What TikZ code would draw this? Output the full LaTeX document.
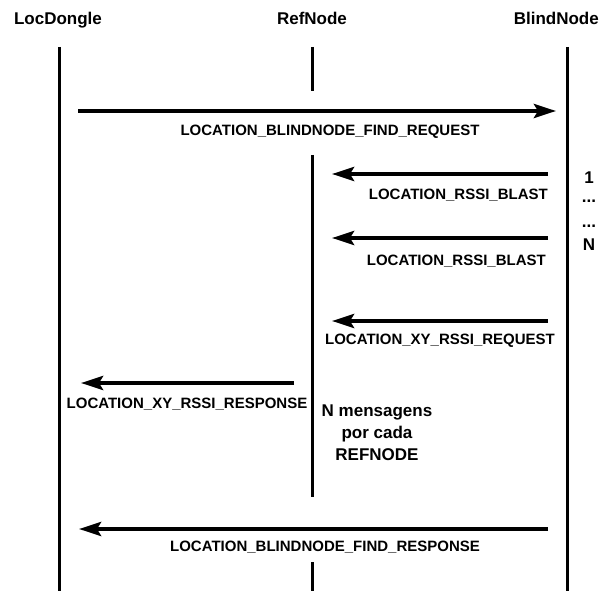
\documentclass[tikz,border=0pt]{standalone}
\usepackage{fontspec}
\setmainfont{Liberation Sans}
\usetikzlibrary{arrows.meta}
\begin{document}
\begin{tikzpicture}[x=1pt,y=-1pt,
  header/.style={font=\fontsize{17}{20}\selectfont\bfseries, inner sep=0pt, anchor=base},
  msglabel/.style={font=\fontsize{15}{17}\selectfont\bfseries, inner sep=0pt},
  lifeline/.style={line width=3pt},
  msg/.style={line width=4pt, -{Stealth[length=22pt,width=14pt,inset=4pt]}},
  note/.style={font=\fontsize{17}{22}\selectfont\bfseries, inner sep=0pt, align=center}]
\useasboundingbox[fill=white] (0,0) rectangle (600,591);
% headers
\node[header] (hLD) at (58,25) {LocDongle};
\node[header] (hRN) at (312,25) {RefNode};
\node[header,anchor=base east] (hBN) at (599,25) {BlindNode};
% lifeline coordinates
\coordinate (ldT) at (59,47);  \coordinate (ldB) at (59,591);
\coordinate (bnT) at (567,47); \coordinate (bnB) at (567,591);
\coordinate (rn1T) at (312,47);  \coordinate (rn1B) at (312,91);
\coordinate (rn2T) at (312,155); \coordinate (rn2B) at (312,497);
\coordinate (rn3T) at (312,562); \coordinate (rn3B) at (312,591);
\draw[lifeline] (ldT) -- (ldB);
\draw[lifeline] (bnT) -- (bnB);
\draw[lifeline] (rn1T) -- (rn1B);
\draw[lifeline] (rn2T) -- (rn2B);
\draw[lifeline] (rn3T) -- (rn3B);
% message end points
\coordinate (m1s) at (78,111);  \coordinate (m1e) at (556,111);
\coordinate (m2s) at (548,174); \coordinate (m2e) at (332,174);
\coordinate (m3s) at (548,238); \coordinate (m3e) at (332,238);
\coordinate (m4s) at (548,321); \coordinate (m4e) at (332,321);
\coordinate (m5s) at (294,383); \coordinate (m5e) at (81,383);
\coordinate (m6s) at (548,529); \coordinate (m6e) at (79,529);
\draw[msg] (m1s) -- (m1e);
\draw[msg] (m2s) -- (m2e);
\draw[msg] (m3s) -- (m3e);
\draw[msg] (m4s) -- (m4e);
\draw[msg] (m5s) -- (m5e);
\draw[msg] (m6s) -- (m6e);
% labels
\node[msglabel] (l1) at (330,132) {LOCATION\_BLINDNODE\_FIND\_REQUEST};
\node[msglabel,anchor=east] (l2) at (548,195) {LOCATION\_RSSI\_BLAST};
\node[msglabel,anchor=east] (l3) at (546,261) {LOCATION\_RSSI\_BLAST};
\node[msglabel] (l4) at (440,341) {LOCATION\_XY\_RSSI\_REQUEST};
\node[msglabel] (l5) at (187,404) {LOCATION\_XY\_RSSI\_RESPONSE};
\node[msglabel] (l6) at (325,547) {LOCATION\_BLINDNODE\_FIND\_RESPONSE};
% counter
\node[note] (c1) at (589,178) {1};
\node[note,anchor=base] (c2) at (589,203) {...};
\node[note,anchor=base] (c3) at (589,227) {...};
\node[note] (c4) at (589,245) {N};
% note
\node[note] (nm) at (377,433) {N mensagens\\por cada\\REFNODE};
\end{tikzpicture}
\end{document}
